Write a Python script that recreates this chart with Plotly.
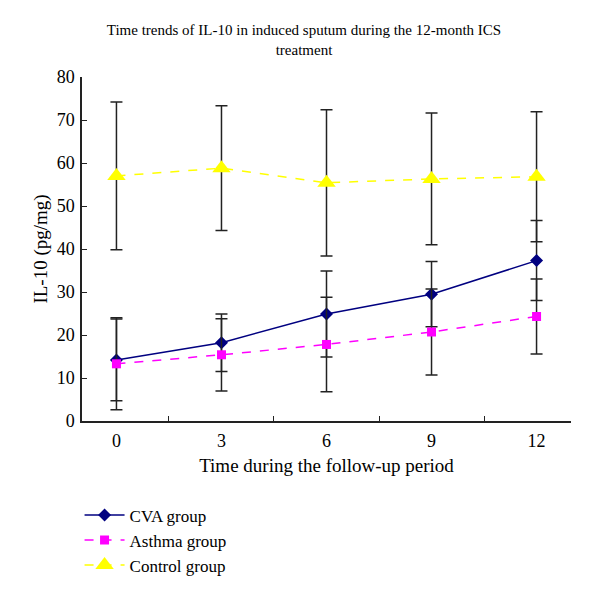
import plotly.graph_objects as go

months = ["0", "3", "6", "9", "12"]
cva = [14.2, 18.2, 24.9, 29.5, 37.3]
cva_err = [9.5, 6.7, 10.0, 7.6, 9.3]
asthma = [13.3, 15.4, 17.8, 20.7, 24.3]
asthma_err = [10.7, 8.4, 11.0, 10.0, 8.7]
control = [57.0, 58.8, 55.4, 56.3, 56.8]
control_err = [17.2, 14.5, 17.0, 15.3, 15.1]

serif = "Liberation Serif, Times New Roman, serif"

def eb(vals):
    return dict(type="data", array=vals, visible=True, color="#222222", thickness=1.5, width=6)

fig = go.Figure()
fig.add_trace(go.Scatter(x=months, y=cva, name="CVA group", mode="lines+markers",
                         line=dict(color="#000080", width=1.5),
                         marker=dict(symbol="diamond", size=10, color="#000080"),
                         error_y=eb(cva_err)))
fig.add_trace(go.Scatter(x=months, y=asthma, name="Asthma group", mode="lines+markers",
                         line=dict(color="#FF00FF", width=1.5, dash="dash"),
                         marker=dict(symbol="square", size=9, color="#FF00FF"),
                         error_y=eb(asthma_err)))
fig.add_trace(go.Scatter(x=months, y=control, name="Control group", mode="lines+markers",
                         line=dict(color="#FFFF00", width=1.5, dash="dash"),
                         marker=dict(symbol="triangle-up", size=16, color="#FFFF00"),
                         error_y=eb(control_err)))

fig.update_layout(
    width=592, height=585,
    paper_bgcolor="white", plot_bgcolor="white",
    margin=dict(l=74, r=29, t=69, b=172, autoexpand=False),
    font=dict(family=serif, size=18, color="black"),
    title=dict(text="Time trends of IL-10 in induced sputum during the 12-month ICS<br>treatment",
               x=0.5, xanchor="center", y=0.953, yanchor="top",
               font=dict(family=serif, size=15, color="black")),
    showlegend=True,
    legend=dict(x=-0.005, xanchor="left", y=-0.222, yanchor="top",
                font=dict(family=serif, size=17, color="black"),
                bgcolor="rgba(0,0,0,0)", tracegroupgap=0, itemwidth=40),
    xaxis=dict(type="category", tickson="boundaries", ticks="inside", ticklen=5,
               showline=True, linecolor="#222222", linewidth=1.5, tickcolor="#222222",
               showgrid=False, zeroline=False, automargin=False,
               tickfont=dict(size=18), ticklabelstandoff=3,
               title=dict(text="Time during the follow-up period", font=dict(size=19), standoff=8)),
    yaxis=dict(range=[0, 80], dtick=10, ticks="inside", ticklen=5,
               showline=True, linecolor="#222222", linewidth=1.5, tickcolor="#222222",
               showgrid=False, zeroline=False, automargin=False,
               tickfont=dict(size=18), ticklabelstandoff=2,
               title=dict(text="IL-10 (pg/mg)", font=dict(size=19), standoff=4)),
)

fig.write_html("out.html")
